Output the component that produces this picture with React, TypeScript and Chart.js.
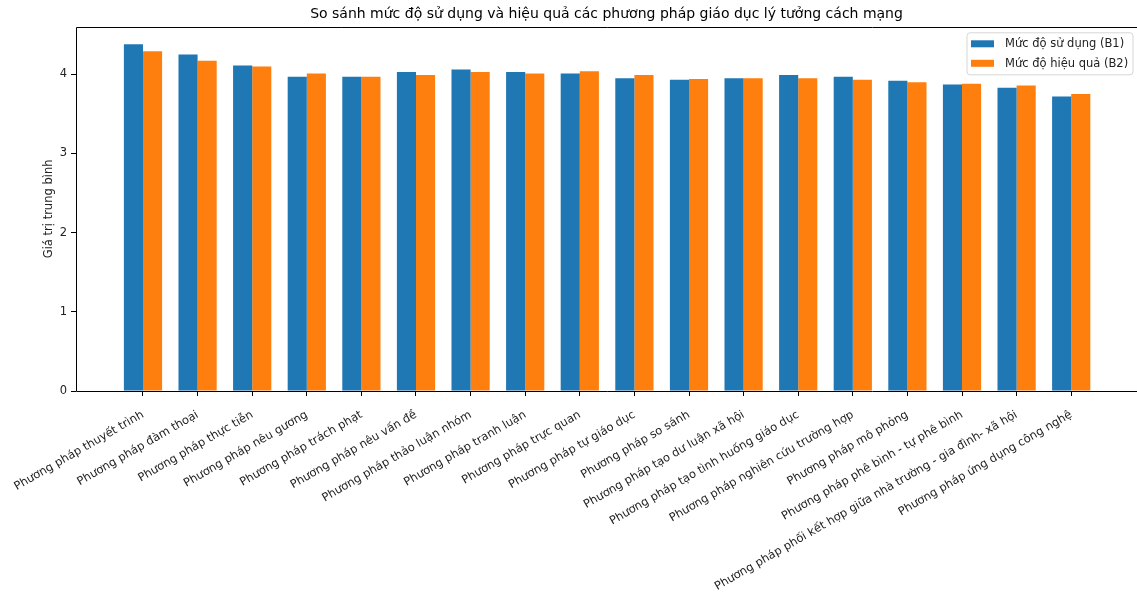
import React, { useEffect, useRef } from "react";
import { Chart, registerables } from "chart.js";

Chart.register(...registerables);

const categories: string[] = [
  "Phương pháp thuyết trình",
  "Phương pháp đàm thoại",
  "Phương pháp thực tiễn",
  "Phương pháp nêu gương",
  "Phương pháp trách phạt",
  "Phương pháp nêu vấn đề",
  "Phương pháp thảo luận nhóm",
  "Phương pháp tranh luận",
  "Phương pháp trực quan",
  "Phương pháp tự giáo dục",
  "Phương pháp so sánh",
  "Phương pháp tạo dư luận xã hội",
  "Phương pháp tạo tình huống giáo dục",
  "Phương pháp nghiên cứu trường hợp",
  "Phương pháp mô phỏng",
  "Phương pháp phê bình - tự phê bình",
  "Phương pháp phối kết hợp giữa nhà trường - gia đình- xã hội",
  "Phương pháp ứng dụng công nghệ",
];

const usageB1: number[] = [4.38, 4.25, 4.11, 3.97, 3.97, 4.03, 4.06, 4.03, 4.01, 3.95, 3.93, 3.95, 3.99, 3.97, 3.92, 3.87, 3.83, 3.72];
const effectB2: number[] = [4.29, 4.17, 4.10, 4.01, 3.97, 3.99, 4.03, 4.01, 4.04, 3.99, 3.94, 3.95, 3.95, 3.93, 3.90, 3.88, 3.86, 3.75];

const seriesLabels: string[] = ["Mức độ sử dụng (B1)", "Mức độ hiệu quả (B2)"];
const seriesColors: string[] = ["#1f77b4", "#ff7f0e"];
const yTicks: number[] = [0, 1, 2, 3, 4];

const titleText = "So sánh mức độ sử dụng và hiệu quả các phương pháp giáo dục lý tưởng cách mạng";
const yTitle = "Giá trị trung bình";

const FONT = "'DejaVu Sans', sans-serif";
const FS = 11.5;

const frameAndLegend = {
  id: "frameAndLegend",
  afterDraw(chart: any) {
    const { ctx, chartArea } = chart;
    const { left, top, right, bottom } = chartArea;
    ctx.save();
    ctx.strokeStyle = "#000";
    ctx.lineWidth = 1;
    const L = Math.round(left) + 0.5;
    const T = Math.round(top) + 0.5;
    const B = Math.round(bottom) + 0.5;
    ctx.beginPath();
    ctx.moveTo(right + 2, T);
    ctx.lineTo(L, T);
    ctx.lineTo(L, B);
    ctx.lineTo(right + 2, B);
    ctx.stroke();

    // legend
    ctx.font = `${FS}px ${FONT}`;
    const datasets = chart.data.datasets;
    const swW = 23;
    const swH = 7;
    const rowH = 19.5;
    const bx = 967;
    const boxW = 166;
    const boxH = 42;
    const by = top + 6;
    ctx.fillStyle = "rgba(255,255,255,0.8)";
    ctx.strokeStyle = "#d6d6d6";
    ctx.beginPath();
    const r = 3;
    ctx.moveTo(bx + r, by);
    ctx.lineTo(bx + boxW - r, by);
    ctx.quadraticCurveTo(bx + boxW, by, bx + boxW, by + r);
    ctx.lineTo(bx + boxW, by + boxH - r);
    ctx.quadraticCurveTo(bx + boxW, by + boxH, bx + boxW - r, by + boxH);
    ctx.lineTo(bx + r, by + boxH);
    ctx.quadraticCurveTo(bx, by + boxH, bx, by + boxH - r);
    ctx.lineTo(bx, by + r);
    ctx.quadraticCurveTo(bx, by, bx + r, by);
    ctx.closePath();
    ctx.fill();
    ctx.stroke();
    datasets.forEach((d: any, i: number) => {
      const cy = by + 11 + rowH * i;
      ctx.fillStyle = d.backgroundColor;
      ctx.fillRect(bx + 4, cy - swH / 2, swW, swH);
      ctx.fillStyle = "#222";
      ctx.textAlign = "left";
      ctx.textBaseline = "middle";
      ctx.fillText(d.label, bx + 38, cy + 0.5);
    });
    ctx.restore();
  },
};

export default function App() {
  const canvasRef = useRef<HTMLCanvasElement | null>(null);

  useEffect(() => {
    document.body.style.margin = "0";
    const canvas = canvasRef.current;
    if (!canvas) return;
    const chart = new Chart(canvas, {
      type: "bar",
      data: {
        datasets: [
          {
            label: seriesLabels[0],
            data: usageB1.map((v, i) => ({ x: i, y: v })),
            backgroundColor: seriesColors[0],
            borderWidth: 0,
          },
          {
            label: seriesLabels[1],
            data: effectB2.map((v, i) => ({ x: i, y: v })),
            backgroundColor: seriesColors[1],
            borderWidth: 0,
          },
        ],
      },
      options: {
        animation: false,
        responsive: false,
        maintainAspectRatio: false,
        devicePixelRatio: 1,
        layout: { padding: { left: 0, right: 0, top: 0, bottom: 0 } },
        datasets: {
          bar: { categoryPercentage: 0.7, barPercentage: 1.0 },
        },
        plugins: {
          legend: { display: false },
          tooltip: { enabled: false },
          title: {
            display: true,
            text: titleText,
            fullSize: false,
            color: "#000",
            font: { family: FONT, size: 14, weight: "normal" },
            padding: { top: 6, bottom: 4 },
          },
        },
        scales: {
          x: {
            type: "linear",
            min: -1.227,
            max: 18.205,
            offset: false,
            grid: { display: true, offset: false, drawOnChartArea: false, drawTicks: true, tickLength: 5, color: "#000" },
            border: { display: false },
            ticks: {
              autoSkip: false,
              maxRotation: 30,
              minRotation: 30,
              padding: 12,
              color: "#222",
              font: { family: FONT, size: FS },
              callback: (value: any) => categories[value as number] ?? "",
            },
            afterBuildTicks: (axis: any) => {
              axis.ticks = categories.map((_, i) => ({ value: i }));
            },
            afterFit: (axis: any) => {
              axis.height = 206;
              axis.paddingLeft = 0;
              axis.paddingRight = 0;
            },
          },
          y: {
            min: 0,
            max: 4.6,
            grid: { display: true, drawOnChartArea: false, drawTicks: true, tickLength: 5, color: "#000" },
            border: { display: false },
            ticks: {
              color: "#222",
              padding: 4,
              font: { family: FONT, size: FS },
            },
            afterBuildTicks: (axis: any) => {
              axis.ticks = yTicks.map((v) => ({ value: v }));
            },
            title: {
              display: true,
              text: yTitle,
              color: "#222",
              font: { family: FONT, size: FS },
              padding: { top: 42, bottom: 0 },
            },
            afterFit: (axis: any) => {
              axis.width = 76;
            },
          },
        },
      },
      plugins: [frameAndLegend],
    });
    return () => chart.destroy();
  }, []);

  return (
    <div style={{ position: "absolute", left: 0, top: 0, width: 1137, height: 597, background: "#fff" }}>
      <canvas ref={canvasRef} width={1137} height={597} style={{ width: 1137, height: 597, display: "block" }} />
    </div>
  );
}
